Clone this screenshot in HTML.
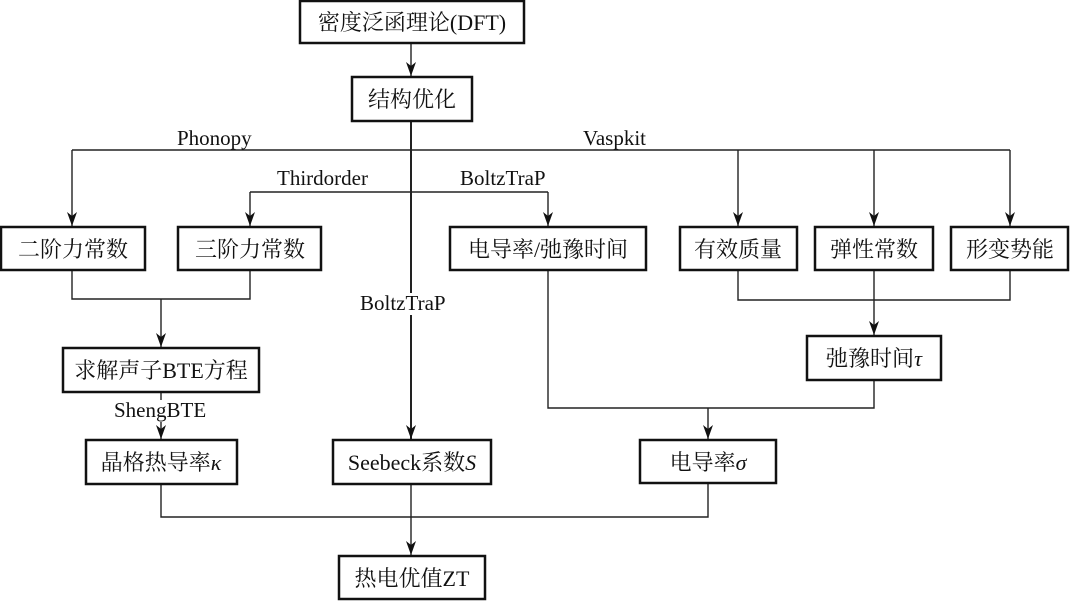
<!DOCTYPE html>
<html><head><meta charset="utf-8"><style>
html,body{margin:0;padding:0;background:#fff;}
svg{display:block;}
.b{fill:#fff;stroke:#111;stroke-width:2.5;}
.l{stroke:#222;stroke-width:1.4;fill:none;}
.c{font-family:"Liberation Serif","Noto Serif CJK SC","Noto Sans CJK SC",serif;font-size:22px;fill:#111;text-anchor:middle;}
.t{font-family:"Liberation Serif",serif;font-size:21px;fill:#111;}
</style></head><body>
<svg width="1070" height="601" viewBox="0 0 1070 601" xmlns="http://www.w3.org/2000/svg">
<defs><marker id="a" markerWidth="14" markerHeight="10" refX="14" refY="5" orient="auto" markerUnits="userSpaceOnUse" viewBox="0 0 14 10"><path d="M0,0 L4,5 L0,10 L14,5 Z" fill="#111"/></marker></defs>
<path class="l" d="M411,43 V76" marker-end="url(#a)"/>
<path class="l" style="stroke-width:2" d="M411,121 V439" marker-end="url(#a)"/>
<path class="l" d="M72,150 H1010"/>
<path class="l" d="M72,150 V226" marker-end="url(#a)"/>
<path class="l" d="M738,150 V226" marker-end="url(#a)"/>
<path class="l" d="M874,150 V226" marker-end="url(#a)"/>
<path class="l" d="M1010,150 V226" marker-end="url(#a)"/>
<path class="l" d="M250,192 H548"/>
<path class="l" d="M250,192 V226" marker-end="url(#a)"/>
<path class="l" d="M548,192 V226" marker-end="url(#a)"/>
<path class="l" d="M72,270 V299 H250 V270"/>
<path class="l" d="M161,299 V347" marker-end="url(#a)"/>
<path class="l" d="M161,392 V439" marker-end="url(#a)"/>
<path class="l" d="M738,270 V300 H1010 V270"/>
<path class="l" d="M874,270 V335" marker-end="url(#a)"/>
<path class="l" d="M548,270 V408 H874 V380"/>
<path class="l" d="M708,408 V439" marker-end="url(#a)"/>
<path class="l" d="M161,484 V517 H708 V483"/>
<path class="l" d="M411,484 V555" marker-end="url(#a)"/>
<rect class="b" x="300" y="1" width="224" height="42"/>
<rect class="b" x="352" y="77" width="120" height="44"/>
<rect class="b" x="1" y="227" width="144" height="43"/>
<rect class="b" x="178" y="227" width="143" height="43"/>
<rect class="b" x="450" y="227" width="196" height="43"/>
<rect class="b" x="680" y="227" width="117" height="43"/>
<rect class="b" x="815" y="227" width="118" height="43"/>
<rect class="b" x="951" y="227" width="117" height="43"/>
<rect class="b" x="807" y="336" width="134" height="44"/>
<rect class="b" x="63" y="348" width="196" height="44"/>
<rect class="b" x="86" y="440" width="151" height="44"/>
<rect class="b" x="333" y="440" width="158" height="44"/>
<rect class="b" x="640" y="440" width="136" height="43"/>
<rect class="b" x="339" y="556" width="146" height="43"/>
<text class="c" x="412" y="30">密度泛函理论(DFT)</text>
<text class="c" x="412" y="107">结构优化</text>
<text class="c" x="73" y="257">二阶力常数</text>
<text class="c" x="250" y="257">三阶力常数</text>
<text class="c" x="548" y="257">电导率/弛豫时间</text>
<text class="c" x="738" y="257">有效质量</text>
<text class="c" x="874" y="257">弹性常数</text>
<text class="c" x="1010" y="257">形变势能</text>
<text class="c" x="874" y="366">弛豫时间<tspan font-style="italic">τ</tspan></text>
<text class="c" x="161" y="378">求解声子BTE方程</text>
<text class="c" x="161" y="470">晶格热导率<tspan font-style="italic">κ</tspan></text>
<text class="c" x="412" y="470">Seebeck系数<tspan font-style="italic">S</tspan></text>
<text class="c" x="708" y="470">电导率<tspan font-style="italic">σ</tspan></text>
<text class="c" x="412" y="586">热电优值ZT</text>
<text class="t" x="177" y="145">Phonopy</text>
<text class="t" x="583" y="145">Vaspkit</text>
<text class="t" x="277" y="185">Thirdorder</text>
<text class="t" x="460" y="185">BoltzTraP</text>
<rect x="356" y="293" width="100" height="22" fill="#fff"/>
<text class="t" x="360" y="310">BoltzTraP</text>
<rect x="112" y="400" width="102" height="22" fill="#fff"/>
<text class="t" x="114" y="417">ShengBTE</text>
</svg>
</body></html>
